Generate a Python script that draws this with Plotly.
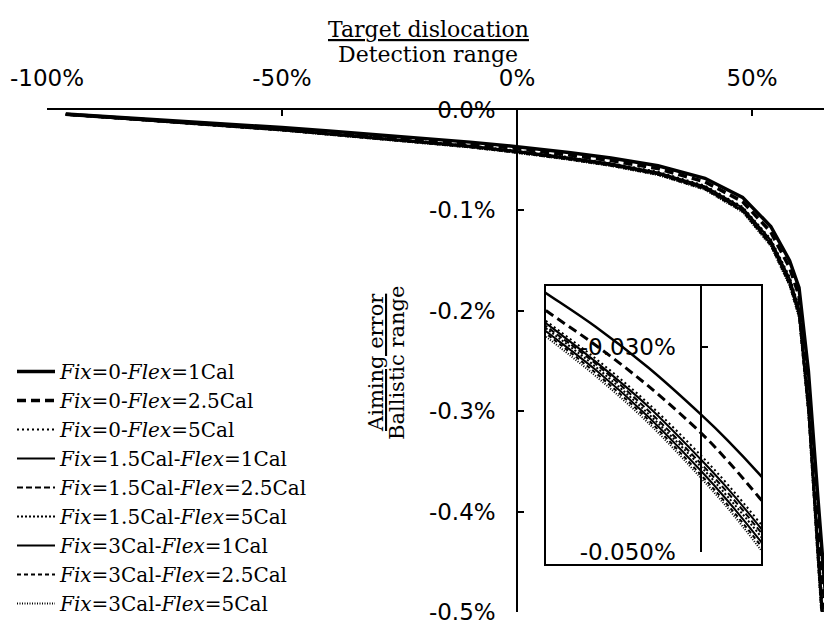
import plotly.graph_objects as go

# ---------------- data ----------------
x_pct = [-96, -80, -65, -50, -40, -30, -20, -10, 0, 5, 11, 20, 30, 40, 48, 54, 58, 60, 62, 64, 66]

fix0_flex1 = [-0.0040, -0.0085, -0.0128, -0.0175, -0.0210, -0.0245, -0.0280, -0.0320, -0.0366, -0.0391, -0.0424,
              -0.0478, -0.0555, -0.0680, -0.0870, -0.1160, -0.1500, -0.1770, -0.2600, -0.3850, -0.5050]
fix0_flex25 = [-0.0043, -0.0090, -0.0136, -0.0186, -0.0224, -0.0262, -0.0298, -0.0338, -0.0384, -0.0411, -0.0447,
               -0.0503, -0.0584, -0.0715, -0.0912, -0.1215, -0.1570, -0.1850, -0.2720, -0.4020, -0.5270]
fix0_flex5 = [-0.0044, -0.0094, -0.0142, -0.0194, -0.0233, -0.0272, -0.0311, -0.0355, -0.0406, -0.0434, -0.0471,
              -0.0531, -0.0616, -0.0755, -0.0966, -0.1288, -0.1665, -0.1965, -0.2886, -0.4274, -0.5606]
fix15_flex1 = [-0.0045, -0.0095, -0.0143, -0.0196, -0.0235, -0.0274, -0.0314, -0.0358, -0.0410, -0.0438, -0.0475,
               -0.0535, -0.0622, -0.0762, -0.0974, -0.1299, -0.1680, -0.1982, -0.2912, -0.4312, -0.5656]
fix15_flex25 = [-0.0045, -0.0096, -0.0145, -0.0198, -0.0237, -0.0277, -0.0316, -0.0362, -0.0414, -0.0442, -0.0479,
                -0.0540, -0.0627, -0.0768, -0.0983, -0.1311, -0.1695, -0.2000, -0.2938, -0.4351, -0.5707]
fix15_flex5 = [-0.0046, -0.0097, -0.0146, -0.0200, -0.0239, -0.0279, -0.0319, -0.0365, -0.0417, -0.0446, -0.0483,
               -0.0545, -0.0633, -0.0775, -0.0992, -0.1322, -0.1710, -0.2018, -0.2964, -0.4389, -0.5757]
fix3_flex1 = [-0.0046, -0.0098, -0.0147, -0.0201, -0.0242, -0.0282, -0.0322, -0.0368, -0.0421, -0.0450, -0.0488,
              -0.0550, -0.0638, -0.0782, -0.1001, -0.1334, -0.1725, -0.2036, -0.2990, -0.4428, -0.5808]
fix3_flex25 = [-0.0046, -0.0099, -0.0148, -0.0203, -0.0244, -0.0284, -0.0325, -0.0371, -0.0425, -0.0454, -0.0492,
               -0.0554, -0.0644, -0.0789, -0.1009, -0.1346, -0.1740, -0.2053, -0.3016, -0.4466, -0.5858]
fix3_flex5 = [-0.0047, -0.0099, -0.0150, -0.0205, -0.0246, -0.0287, -0.0328, -0.0374, -0.0428, -0.0457, -0.0496,
              -0.0559, -0.0649, -0.0796, -0.1018, -0.1357, -0.1755, -0.2071, -0.3042, -0.4505, -0.5909]

series_names = [
    "<i>Fix</i>=0-<i>Flex</i>=1Cal",
    "<i>Fix</i>=0-<i>Flex</i>=2.5Cal",
    "<i>Fix</i>=0-<i>Flex</i>=5Cal",
    "<i>Fix</i>=1.5Cal-<i>Flex</i>=1Cal",
    "<i>Fix</i>=1.5Cal-<i>Flex</i>=2.5Cal",
    "<i>Fix</i>=1.5Cal-<i>Flex</i>=5Cal",
    "<i>Fix</i>=3Cal-<i>Flex</i>=1Cal",
    "<i>Fix</i>=3Cal-<i>Flex</i>=2.5Cal",
    "<i>Fix</i>=3Cal-<i>Flex</i>=5Cal",
]
series_values = [fix0_flex1, fix0_flex25, fix0_flex5, fix15_flex1, fix15_flex25,
                 fix15_flex5, fix3_flex1, fix3_flex25, fix3_flex5]

x_tick_vals = [-100, -50, 0, 50]
x_tick_text = ["-100%", "-50%", "0%", "50%"]
y_tick_vals = [0, -0.1, -0.2, -0.3, -0.4, -0.5]
y_tick_text = ["0.0%", "-0.1%", "-0.2%", "-0.3%", "-0.4%", "-0.5%"]
inset_y_tick_vals = [-0.03, -0.05]
inset_y_tick_text = ["-0.030%", "-0.050%"]

# ---------------- styles ----------------
line_styles = [
    dict(width=3.5, dash="solid"),
    dict(width=3.5, dash="9px,5px"),
    dict(width=2.2, dash="2px,3px"),
    dict(width=2.2, dash="solid"),
    dict(width=2.2, dash="6px,3px"),
    dict(width=2.2, dash="2px,2px"),
    dict(width=2.2, dash="solid"),
    dict(width=2.2, dash="4px,3px"),
    dict(width=1.8, dash="1px,1.5px"),
]
inset_widths = [2.5, 3, 2, 2, 2, 2, 2, 2, 2]

# page offset of the plot div inside the browser window (default body margin)
OFF = 8
W, H = 832, 624
ML, MR, MT, MB = 47 - OFF, 0, 110 - OFF, 624 - (612 - OFF)
X_RANGE = [-100, -100 + (W + OFF - 47) / 4.7]
Y_RANGE = [-0.5, 0]
PW = W - ML - MR
PH = H - MT - MB


def px_to_paper_x(px):  # px = screen x in the reference
    return (px - OFF - ML) / PW


def px_to_paper_y(py):  # py = screen y in the reference
    return (H - MB - (py - OFF)) / PH


yaxis_pos = (0 - X_RANGE[0]) / (X_RANGE[1] - X_RANGE[0])

# inset geometry (reference screen pixels)
IN_L, IN_R, IN_T, IN_B, IN_AX_B = 545, 762, 285, 565, 552
INSET_X_RANGE = [-29.5, 11.5]
INSET_Y_RANGE = [-0.05, -0.02395]
in_x0, in_x1 = px_to_paper_x(IN_L), px_to_paper_x(IN_R)
in_y0, in_y1 = px_to_paper_y(IN_AX_B), px_to_paper_y(IN_T)
inset_yaxis_pos = in_x0 + (0 - INSET_X_RANGE[0]) / (INSET_X_RANGE[1] - INSET_X_RANGE[0]) * (in_x1 - in_x0)

fig = go.Figure()
for i, (nm, ys, st) in enumerate(zip(series_names, series_values, line_styles)):
    fig.add_trace(go.Scatter(x=x_pct, y=ys, mode="lines", name=nm,
                             line=dict(color="black", width=st["width"], dash=st["dash"]),
                             legendgroup=f"g{i}", xaxis="x", yaxis="y"))
for i, (nm, ys, st) in enumerate(zip(series_names, series_values, line_styles)):
    fig.add_trace(go.Scatter(x=x_pct, y=ys, mode="lines", name=nm, showlegend=False,
                             line=dict(color="black", width=inset_widths[i], dash=st["dash"],
                                       shape="spline", smoothing=1),
                             legendgroup=f"g{i}", xaxis="x2", yaxis="y2"))

tick_font = dict(family="DejaVu Sans", size=23, color="black")
serif = "DejaVu Serif"

fig.update_layout(
    width=W, height=H,
    margin=dict(l=ML, r=MR, t=MT, b=MB, pad=0, autoexpand=False),
    paper_bgcolor="white", plot_bgcolor="white",
    xaxis=dict(domain=[0, 1], range=X_RANGE, side="top", anchor="y",
               showline=True, linecolor="black", linewidth=1.5,
               ticks="inside", ticklen=6, tickwidth=1.5, tickcolor="black",
               tickvals=x_tick_vals, ticktext=x_tick_text, tickfont=tick_font,
               ticklabelstandoff=13, showgrid=False, zeroline=False, automargin=False),
    yaxis=dict(domain=[0, 1], range=Y_RANGE, anchor="free", position=yaxis_pos,
               showline=True, linecolor="black", linewidth=1.5,
               ticks="inside", ticklen=6, tickwidth=1.5, tickcolor="black",
               tickvals=y_tick_vals, ticktext=y_tick_text, tickfont=tick_font,
               ticklabelstandoff=16, showgrid=False, zeroline=False, automargin=False),
    xaxis2=dict(domain=[in_x0, in_x1], range=INSET_X_RANGE, anchor="y2",
                visible=False, showgrid=False, zeroline=False),
    yaxis2=dict(domain=[in_y0, in_y1], range=INSET_Y_RANGE, anchor="free", position=inset_yaxis_pos,
                showline=True, linecolor="black", linewidth=1.5,
                ticks="inside", ticklen=6, tickwidth=1.5, tickcolor="black",
                tickvals=inset_y_tick_vals, ticktext=inset_y_tick_text, tickfont=tick_font,
                ticklabelstandoff=20, showgrid=False, zeroline=False, automargin=False),
    legend=dict(xref="container", yref="container", x=4 / W, y=1 - 344 / H,
                xanchor="left", yanchor="top", bgcolor="rgba(0,0,0,0)",
                font=dict(family=serif, size=20, color="black"),
                tracegroupgap=0, itemwidth=38),
    shapes=[dict(type="rect", xref="paper", yref="paper",
                 x0=in_x0, x1=in_x1, y0=px_to_paper_y(IN_B), y1=in_y1,
                 line=dict(color="black", width=2), fillcolor="rgba(0,0,0,0)", layer="above")],
    annotations=[
        dict(text="<u>Target dislocation</u>", xref="paper", yref="paper",
             x=px_to_paper_x(428), y=px_to_paper_y(30), showarrow=False,
             xanchor="center", yanchor="middle", font=dict(family=serif, size=22, color="black")),
        dict(text="Detection range", xref="paper", yref="paper",
             x=px_to_paper_x(428), y=px_to_paper_y(54), showarrow=False,
             xanchor="center", yanchor="middle", font=dict(family=serif, size=22, color="black")),
        dict(text="<u>Aiming error</u>", xref="paper", yref="paper", textangle=-90,
             x=px_to_paper_x(376), y=px_to_paper_y(363), showarrow=False,
             xanchor="center", yanchor="middle", font=dict(family=serif, size=21, color="black")),
        dict(text="Ballistic range", xref="paper", yref="paper", textangle=-90,
             x=px_to_paper_x(397), y=px_to_paper_y(363), showarrow=False,
             xanchor="center", yanchor="middle", font=dict(family=serif, size=21, color="black")),
    ],
)

fig.write_html("out.html")
